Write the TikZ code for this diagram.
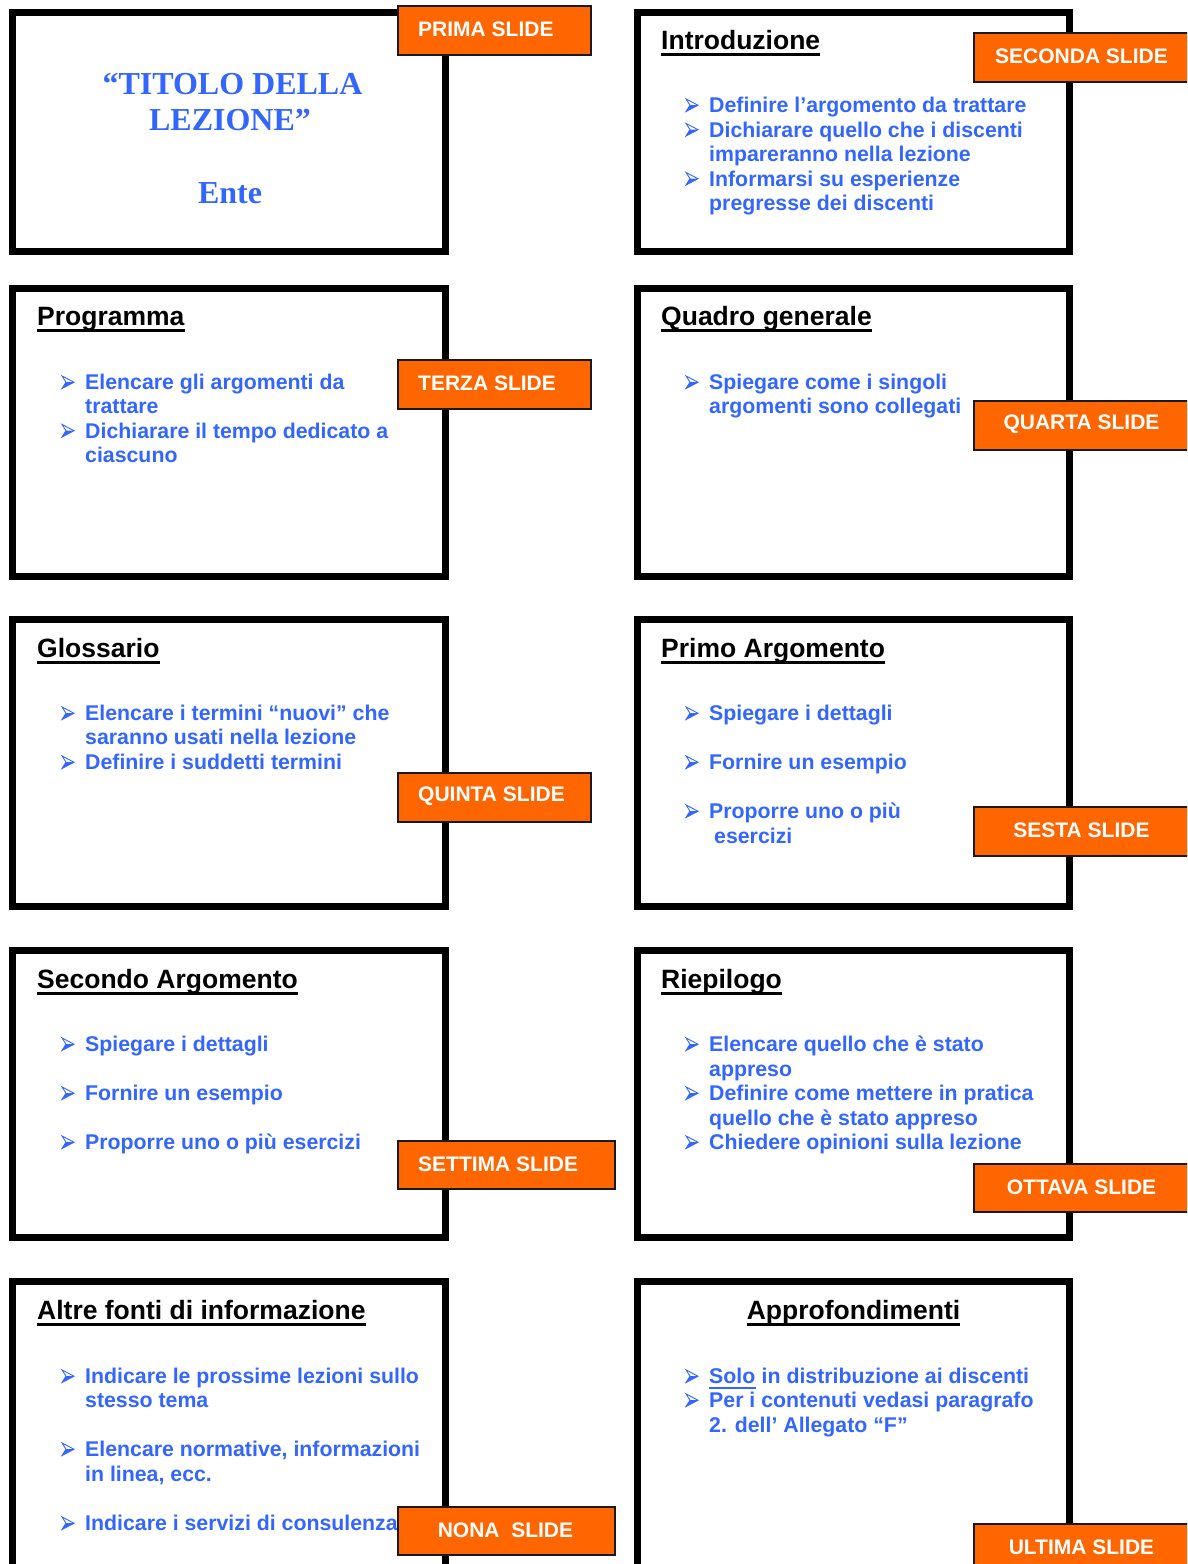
\documentclass[tikz,border=0pt]{standalone}
\usepackage{fontspec}
\setmainfont{Liberation Sans}
\newfontfamily\timesfont{Liberation Serif}
\definecolor{bultxt}{HTML}{3366FF}
\definecolor{tagfill}{HTML}{FF6600}

\tikzset{
  slidebox/.style={draw=black, line width=7pt, fill=white},
  tagbox/.style={draw=black!90, line width=1.5pt, fill=tagfill, inner sep=0pt},
  tagtxt/.style={inner sep=0pt, text=white, font=\fontsize{21}{24}\selectfont\bfseries},
  headtxt/.style={anchor=base west, inner sep=0pt, text=black, font=\fontsize{26.5}{30}\selectfont\bfseries},
  btxt/.style={anchor=base west, inner sep=0pt, text=bultxt, font=\fontsize{21.3}{24}\selectfont\bfseries},
  titletxt/.style={anchor=base, inner sep=0pt, text=bultxt, font=\timesfont\fontsize{32}{36}\selectfont\bfseries},
  headline/.style={line width=2.4pt, black},
  bul/.pic={
    \fill[bultxt] (0,0) -- (12,-6.3) -- (4,-6.3) -- cycle;
    \draw[bultxt, line width=0.9pt, line join=miter] (0,-12.6) -- (12,-6.3) -- (0,0) -- (4,-6.3) -- cycle;
  }
}

% heading with underline: name, x, baseline, text
\newcommand\slidehead[4]{%
  \node[headtxt] (#1) at (#2,#3) {#4};
  \draw[headline] ([yshift=-5.5pt]#1.base west) -- ([yshift=-5.5pt]#1.base east);
}
% bullet line: name, arrow x, baseline, text
\newcommand\bline[4]{%
  \pic at (#2+1,#3-1) {bul};
  \node[btxt] (#1) at (#2+24,#3) {#4};
}
% label tag: name, x1, y1, x2, y2
\newcommand\tag[5]{%
  \node[tagbox, minimum width=#4-#2, minimum height=#5-#3, anchor=north west] (#1) at (#2,#3) {};
}

\begin{document}
\begin{tikzpicture}[x=1pt,y=-1pt]
\useasboundingbox (0,0) rectangle (1187,1564);
\clip (0,0) rectangle (1187,1564);
\fill[white] (0,0) rectangle (1187,1564);

% slide frames
\draw[slidebox] (12.5,12.5) rectangle (445.5,251.5);
\draw[slidebox] (637.5,12.5) rectangle (1069.5,251.5);
\draw[slidebox] (12.5,288) rectangle (445.5,576);
\draw[slidebox] (637.5,288) rectangle (1069.5,576);
\draw[slidebox] (12.5,619.5) rectangle (445.5,906.5);
\draw[slidebox] (637.5,619.5) rectangle (1069.5,906.5);
\draw[slidebox] (12.5,950.5) rectangle (445.5,1237.5);
\draw[slidebox] (637.5,950.5) rectangle (1069.5,1237.5);
\draw[slidebox] (12.5,1281.5) rectangle (445.5,1620);
\draw[slidebox] (637.5,1281.5) rectangle (1069.5,1620);

% title slide
\node[titletxt] (t1) at (232.5,94) {“TITOLO DELLA};
\node[titletxt] (t2) at (230,130) {LEZIONE”};
\node[titletxt] (t3) at (230,203) {Ente};

% introduction
\slidehead{h2}{661}{49}{Introduzione}
\bline{b21}{685}{112.5}{Definire l’argomento da trattare}
\bline{b22}{685}{137}{Dichiarare quello che i discenti}
\node[btxt] (b23) at (709,161.5) {impareranno nella lezione};
\bline{b24}{685}{186}{Informarsi su esperienze}
\node[btxt] (b25) at (709,210.5) {pregresse dei discenti};

% programme
\slidehead{h3}{37}{325}{Programma}
\bline{b31}{61}{389.5}{Elencare gli argomenti da}
\node[btxt] (b32) at (85,413.5) {trattare};
\bline{b33}{61}{438}{Dichiarare il tempo dedicato a}
\node[btxt] (b34) at (85,462) {ciascuno};

% overview
\slidehead{h4}{661}{325}{Quadro generale}
\bline{b41}{685}{389.5}{Spiegare come i singoli}
\node[btxt] (b42) at (709,413.5) {argomenti sono collegati};

% glossary
\slidehead{h5}{37}{657}{Glossario}
\bline{b51}{61}{720.5}{Elencare i termini “nuovi” che}
\node[btxt] (b52) at (85,744.5) {saranno usati nella lezione};
\bline{b53}{61}{769.5}{Definire i suddetti termini}

% first topic
\slidehead{h6}{661}{657}{Primo Argomento}
\bline{b61}{685}{720.5}{Spiegare i dettagli}
\bline{b62}{685}{769.5}{Fornire un esempio}
\bline{b63}{685}{818.5}{Proporre uno o più}
\node[btxt] (b64) at (714,843) {esercizi};

% second topic
\slidehead{h7}{37}{988}{Secondo Argomento}
\bline{b71}{61}{1051.5}{Spiegare i dettagli}
\bline{b72}{61}{1100.5}{Fornire un esempio}
\bline{b73}{61}{1149.5}{Proporre uno o più esercizi}

% summary
\slidehead{h8}{661}{988}{Riepilogo}
\bline{b81}{685}{1051.5}{Elencare quello che è stato}
\node[btxt] (b82) at (709,1076) {appreso};
\bline{b83}{685}{1100.5}{Definire come mettere in pratica}
\node[btxt] (b84) at (709,1125) {quello che è stato appreso};
\bline{b85}{685}{1149.5}{Chiedere opinioni sulla lezione}

% further sources
\slidehead{h9}{37}{1319}{Altre fonti di informazione}
\bline{b91}{61}{1383.5}{Indicare le prossime lezioni sullo}
\node[btxt] (b92) at (85,1407.5) {stesso tema};
\bline{b93}{61}{1456.5}{Elencare normative, informazioni}
\node[btxt] (b94) at (85,1481) {in linea, ecc.};
\bline{b95}{61}{1530.5}{Indicare i servizi di consulenza}

% in-depth material
\node[headtxt, anchor=base] (h10) at (853.5,1319) {Approfondimenti};
\draw[headline] ([yshift=-5.5pt]h10.base west) -- ([yshift=-5.5pt]h10.base east);
\bline{b101}{685}{1383.5}{Solo}
\draw[bultxt, line width=2pt] ([yshift=-4.5pt]b101.base west) -- ([yshift=-4.5pt]b101.base east);
\node[btxt] (b102) at (b101.base east) {\ in distribuzione ai discenti};
\bline{b103}{685}{1407.5}{Per i contenuti vedasi paragrafo}
\node[btxt] (b104) at (709,1432) {2. dell’ Allegato “F”};

% slide tags
\tag{g1}{397}{5}{590}{54}
\node[tagtxt, anchor=west] (g1t) at (418,29.5) {PRIMA SLIDE};
\tag{g2}{973}{32}{1190}{81}
\node[tagtxt] (g2t) at (1081.5,56.5) {SECONDA SLIDE};
\tag{g3}{397}{359}{590}{408}
\node[tagtxt, anchor=west] (g3t) at (418,383.5) {TERZA SLIDE};
\tag{g4}{973}{400}{1190}{449}
\node[tagtxt] (g4t) at (1081.5,424.5) {QUARTA SLIDE};
\tag{g5}{397}{772}{590}{821}
\node[tagtxt, anchor=west] (g5t) at (418,796.5) {QUINTA SLIDE};
\tag{g6}{973}{806}{1190}{855}
\node[tagtxt] (g6t) at (1081.5,830.5) {SESTA SLIDE};
\tag{g7}{397}{1140}{614}{1188}
\node[tagtxt, anchor=west] (g7t) at (418,1164) {SETTIMA SLIDE};
\tag{g8}{973}{1163}{1190}{1211}
\node[tagtxt] (g8t) at (1081.5,1187) {OTTAVA SLIDE};
\tag{g9}{397}{1506}{614}{1554}
\node[tagtxt] (g9t) at (505.5,1530) {NONA\ \ SLIDE};
\tag{g10}{973}{1523}{1190}{1572}
\node[tagtxt] (g10t) at (1081.5,1547.5) {ULTIMA SLIDE};
\end{tikzpicture}
\end{document}
